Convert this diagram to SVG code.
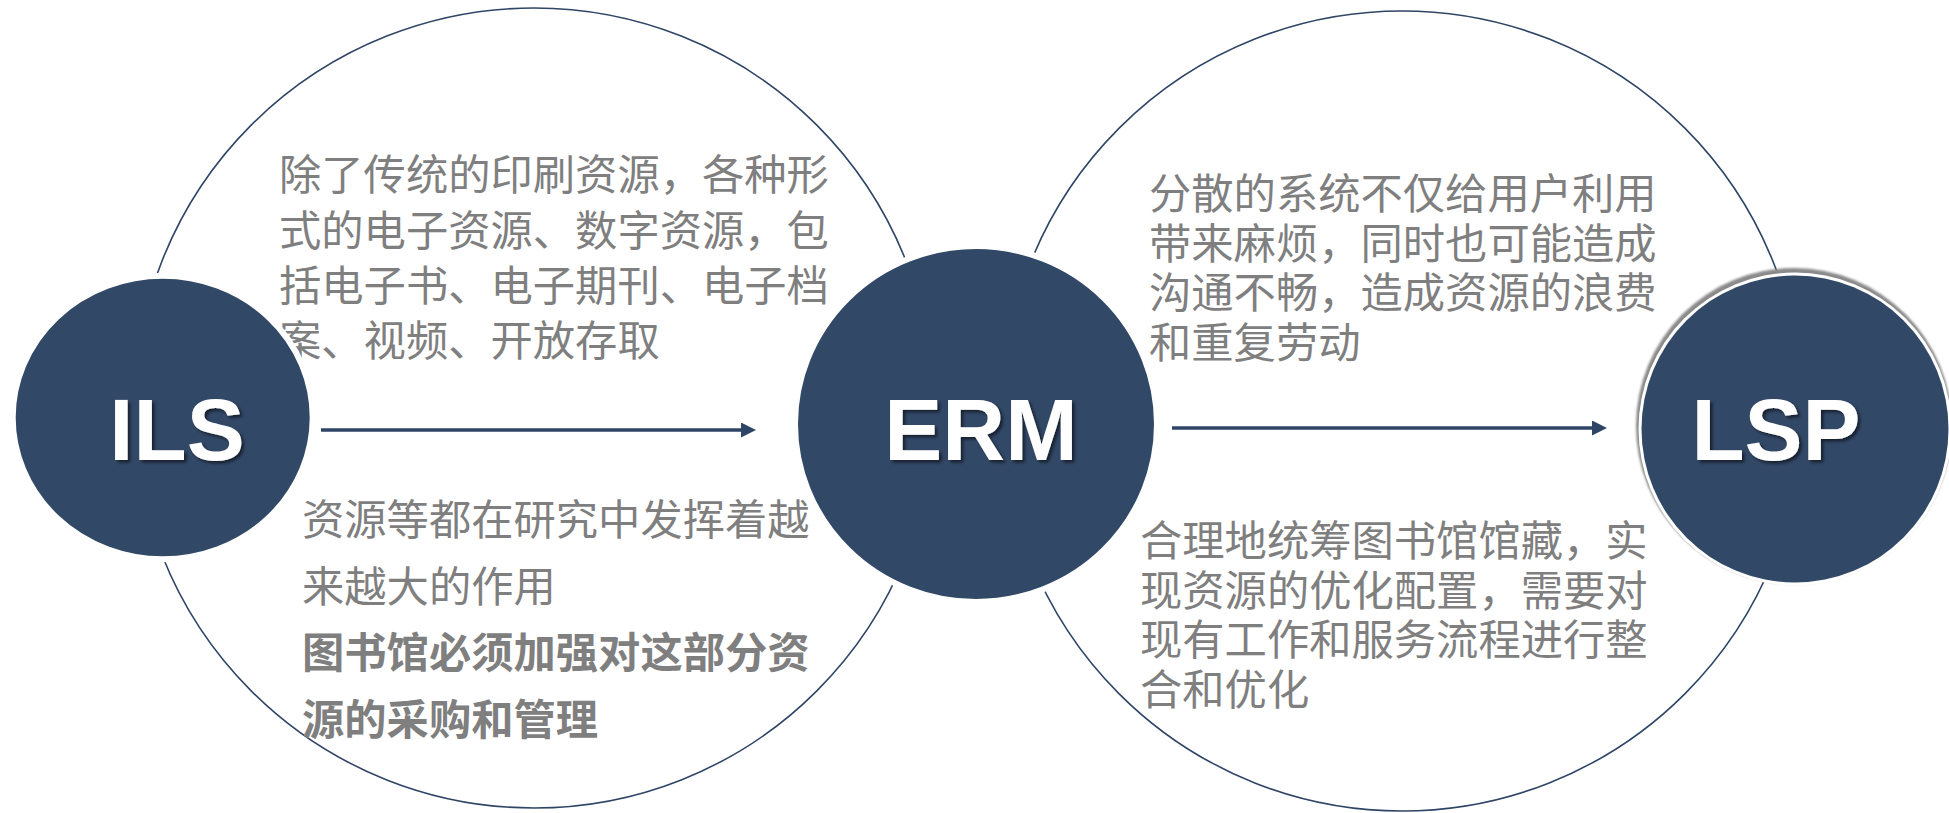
<svg xmlns="http://www.w3.org/2000/svg" width="1949" height="813" viewBox="0 0 1949 813">
<style>
.big{fill:none;stroke:#2f4566;stroke-width:1.6}
.node{fill:#324867}
.ring{stroke:#ffffff;stroke-width:6}
.txt{font-family:"Noto Sans CJK SC","Noto Sans CJK TC",sans-serif;font-size:42.3px;fill:#7f7f7f}
.b{font-weight:bold}
.lbl{font-family:"Liberation Sans",Arial,sans-serif;font-weight:bold;font-size:87px;fill:#ffffff;text-anchor:middle}
.conn{stroke:#2f4566;stroke-width:3.6;fill:none}
</style>
<defs>
<marker id="ah" markerUnits="userSpaceOnUse" markerWidth="16" markerHeight="16" refX="1" refY="7.5" orient="auto">
<path d="M0,0 L15,7.5 L0,15 z" fill="#2f4566"/>
</marker>
<filter id="sh" x="-20%" y="-20%" width="140%" height="140%">
<feDropShadow dx="2.5" dy="2.5" stdDeviation="1.5" flood-color="#000" flood-opacity="0.55"/>
</filter>
<filter id="bl" x="-10%" y="-10%" width="120%" height="120%">
<feGaussianBlur stdDeviation="1"/>
</filter>
</defs>
<rect width="1949" height="813" fill="#ffffff"/>
<g id="bigLeft"><circle class="big" cx="534" cy="408" r="400"/></g>
<g id="bigRight"><circle class="big" cx="1402" cy="411" r="400"/></g>
<g id="textTopLeft" class="txt">
<text x="279" y="190">除了传统的印刷资源，各种形</text>
<text x="279" y="245.5">式的电子资源、数字资源，包</text>
<text x="279" y="300.5">括电子书、电子期刊、电子档</text>
<text x="279" y="356">案、视频、开放存取</text>
</g>
<g id="textBottomLeft" class="txt">
<text x="302" y="535">资源等都在研究中发挥着越</text>
<text x="302" y="602">来越大的作用</text>
<text x="302" y="668" class="b">图书馆必须加强对这部分资</text>
<text x="302" y="735" class="b">源的采购和管理</text>
</g>
<g id="textTopRight" class="txt">
<text x="1149" y="209">分散的系统不仅给用户利用</text>
<text x="1149" y="258.5">带来麻烦，同时也可能造成</text>
<text x="1149" y="308">沟通不畅，造成资源的浪费</text>
<text x="1149" y="357.5">和重复劳动</text>
</g>
<g id="textBottomRight" class="txt">
<text x="1140" y="556">合理地统筹图书馆馆藏，实</text>
<text x="1140" y="605.5">现资源的优化配置，需要对</text>
<text x="1140" y="655">现有工作和服务流程进行整</text>
<text x="1140" y="704.5">合和优化</text>
</g>
<g id="connectors">
<line class="conn" x1="321" y1="430" x2="742" y2="430" marker-end="url(#ah)"/>
<line class="conn" x1="1172" y1="428" x2="1593" y2="428" marker-end="url(#ah)"/>
</g>
<g id="ILS">
<ellipse class="node ring" cx="162.7" cy="417.5" rx="150" ry="141.7"/>
<text class="lbl" x="177" y="460" filter="url(#sh)">ILS</text>
</g>
<g id="ERM">
<ellipse class="node ring" cx="976" cy="424" rx="181" ry="178"/>
<text class="lbl" x="981" y="460" filter="url(#sh)">ERM</text>
</g>
<g id="LSP">
<circle cx="1794" cy="426" r="158" fill="#8a8a8a" filter="url(#bl)"/>
<circle cx="1795" cy="429" r="156.5" fill="#ffffff"/>
<circle class="node" cx="1795" cy="429" r="153.5"/>
<text class="lbl" x="1776" y="460" filter="url(#sh)">LSP</text>
</g>
</svg>
